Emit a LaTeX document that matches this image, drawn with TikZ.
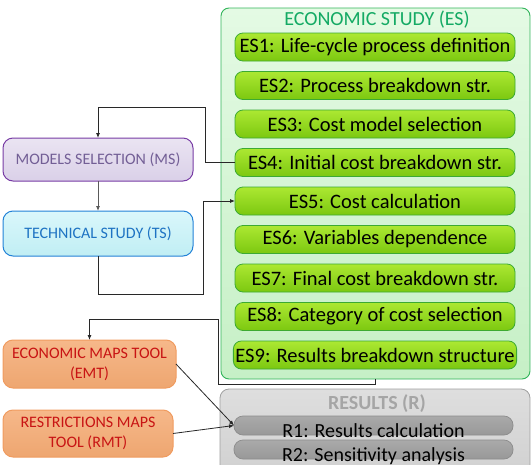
\documentclass[tikz,border=0pt]{standalone}
\usepackage{fontspec}
\setmainfont{Carlito}
\usepackage{tikz}
\usetikzlibrary{arrows.meta,positioning,calc}
\definecolor{esline}{RGB}{50,180,90}
\definecolor{estext}{RGB}{20,170,100}
\definecolor{boxline}{RGB}{60,170,50}
\definecolor{msline}{RGB}{120,60,165}
\definecolor{mstext}{RGB}{115,95,150}
\definecolor{tsline}{RGB}{35,130,215}
\definecolor{tstext}{RGB}{30,115,195}
\definecolor{toolline}{RGB}{240,155,95}
\definecolor{tooltext}{RGB}{200,20,20}
\definecolor{resline}{RGB}{160,160,160}
\definecolor{restext}{RGB}{165,165,165}

\begin{document}
\begin{tikzpicture}[x=1pt,y=-1pt,node distance=10.5pt,outer sep=0pt,inner sep=2pt]
      \tikzset{esframe/.style={shape=rectangle,rounded corners=8pt,draw=esline,line width=0.9pt,top color={rgb,255:red,228;green,250;blue,228},bottom color={rgb,255:red,198;green,240;blue,198}}}
      \tikzset{esbox/.style={align=center,shape=rectangle,rounded corners=8pt,minimum height=28pt,minimum width=280pt,draw=boxline,line width=0.8pt,top color={rgb,255:red,172;green,232;blue,50},bottom color={rgb,255:red,124;green,200;blue,16},font=\fontsize{20.5}{22}\selectfont}}
      \tikzset{sidebox/.style={align=center,shape=rectangle,rounded corners=10pt,minimum width=190pt,line width=1pt,font=\fontsize{16}{20}\selectfont}}
      \tikzset{toolbox/.style={sidebox,draw=toolline,top color={rgb,255:red,246;green,184;blue,138},bottom color={rgb,255:red,238;green,166;blue,112},text=tooltext,minimum height=48pt}}
      \tikzset{rbox/.style={shape=rectangle,rounded corners=9pt,minimum width=279pt,minimum height=19pt,draw={rgb,255:red,140;green,140;blue,140},line width=0.7pt,top color={rgb,255:red,170;green,170;blue,170},bottom color={rgb,255:red,152;green,152;blue,152}}}
      \tikzset{rtext/.style={font=\fontsize{20}{22}\selectfont,text height=14pt,text depth=4pt,yshift=-6.5pt}}
      \tikzset{conn/.style={draw={rgb,255:red,40;green,40;blue,40},line width=0.8pt,-{Latex[length=5pt,width=4pt]}}}

      \useasboundingbox (0,0) rectangle (531,464);

      % economic study
      \node [esframe,minimum width=309pt,minimum height=371pt] (es) at (375.5,193.5) {};
      \node [text=estext,font=\fontsize{20}{22}\selectfont] (estitle) at (377,20) {ECONOMIC STUDY (ES)};
      \node [esbox] (es1) at (375,47) {ES1: Life-cycle process definition};
      \node [esbox,below=of es1] (es2) {ES2: Process breakdown str.};
      \node [esbox,below=of es2] (es3) {ES3: Cost model selection};
      \node [esbox,below=of es3] (es4) {ES4: Initial cost breakdown str.};
      \node [esbox,below=of es4] (es5) {ES5: Cost calculation};
      \node [esbox,below=of es5] (es6) {ES6: Variables dependence};
      \node [esbox,below=of es6] (es7) {ES7: Final cost breakdown str.};
      \node [esbox,below=of es7] (es8) {ES8: Category of cost selection};
      \node [esbox,below=of es8] (es9) {ES9: Results breakdown structure};

      % left column
      \node [sidebox,draw=msline,top color={rgb,255:red,234;green,228;blue,242},bottom color={rgb,255:red,218;green,208;blue,232},text=mstext,minimum height=43pt] (ms) at (98,159.5) {MODELS SELECTION (MS)};
      \node [sidebox,draw=tsline,top color={rgb,255:red,218;green,247;blue,251},bottom color={rgb,255:red,192;green,238;blue,244},text=tstext,minimum height=45pt] (ts) at (98,233.5) {TECHNICAL STUDY (TS)};
      \node [toolbox,minimum width=173pt] (emt) at (89.5,364) {ECONOMIC MAPS TOOL\\(EMT)};
      \node [toolbox,minimum width=170pt,minimum height=47pt] (rmt) at (88,433.5) {RESTRICTIONS MAPS\\TOOL (RMT)};

      % results
      \node [shape=rectangle,rounded corners=9pt,draw=resline,line width=0.8pt,top color={rgb,255:red,222;green,222;blue,222},bottom color={rgb,255:red,208;green,208;blue,208},minimum width=310pt,minimum height=90pt] (res) at (375,434) {};
      \node [text=restext,font=\bfseries\fontsize{20}{22}\selectfont] (restitle) at (377,404) {RESULTS (R)};
      \node [rbox,label={[rtext]center:R1: Results calculation}] (r1) at (373.5,425.5) {};
      \node [rbox,label={[rtext]center:R2: Sensitivity analysis}] (r2) at (373.5,449.5) {};

      % connectors
      \draw [conn] (es4.west) -- ++(-30,0) -- ++(0,-55) -| (ms.north);
      \draw [conn,draw={rgb,255:red,90;green,90;blue,90}] (ms.south) -- (ts.north);
      \draw [conn] (ts.south) -- ++(0,38) -- ++(105,0) |- (es5.west);
      \draw [conn] (es.south) -- ++(0,5) -- ++(-157.5,0) -- ++(0,-65) -| (emt.north);
      \draw [conn] (emt.east) -- (r1.west);
      \draw [conn] (rmt.east) -- (r1.west);
\end{tikzpicture}
\end{document}
